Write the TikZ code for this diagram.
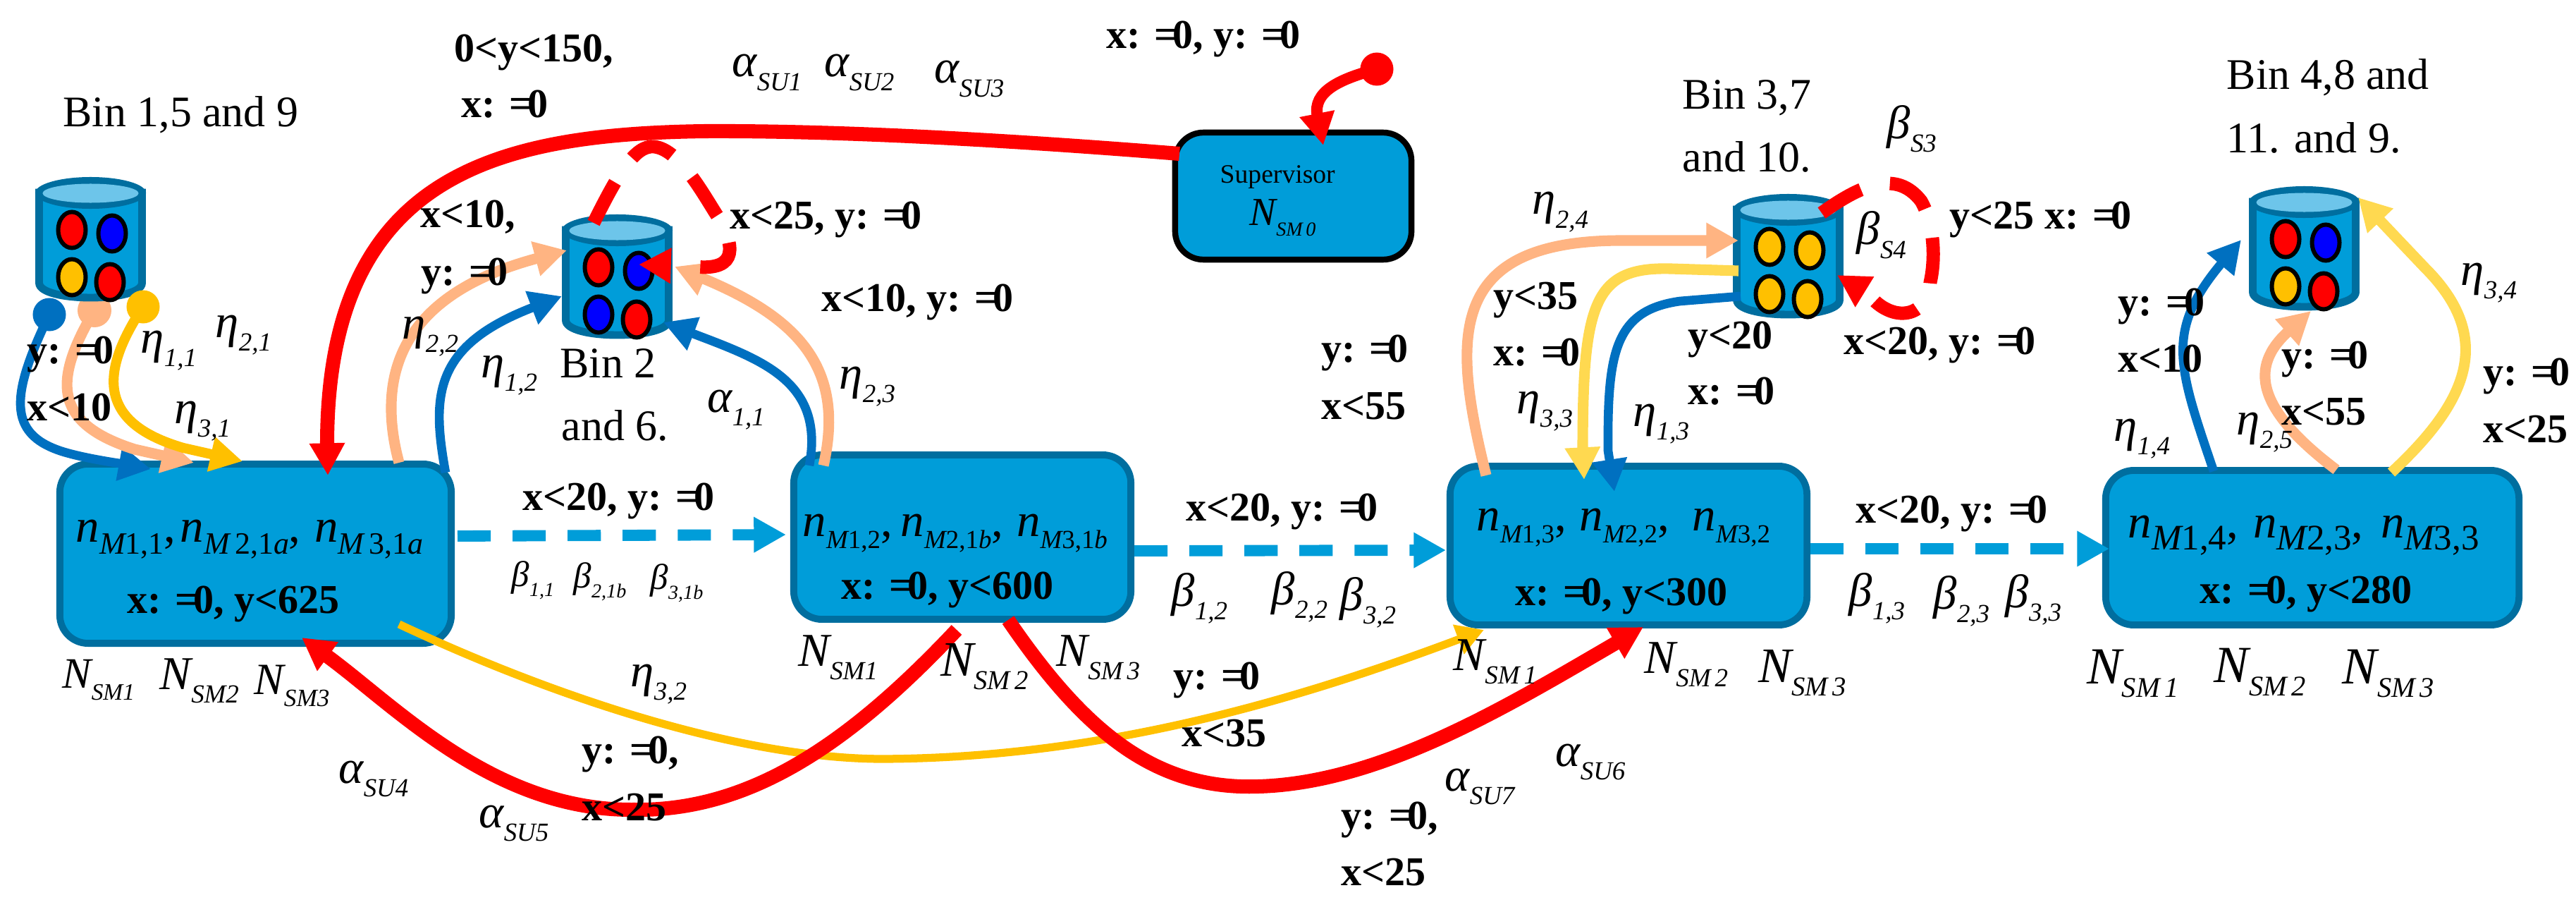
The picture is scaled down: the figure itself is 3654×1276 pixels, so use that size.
\documentclass[tikz,border=0pt]{standalone}
\usepackage{fontspec}
\setmainfont{Liberation Serif}
\usetikzlibrary{arrows.meta}
\definecolor{fillblue}{HTML}{009DD9}
\definecolor{edgeblue}{HTML}{006E9F}
\definecolor{lightblue}{HTML}{6DC5EA}
\definecolor{lineblue}{HTML}{0070C0}
\definecolor{peach}{HTML}{FFB482}
\definecolor{amber}{HTML}{FFC000}
\definecolor{softyellow}{HTML}{FFD950}
\definecolor{ballblue}{HTML}{0000FF}
\newcommand\gsym[5]{{\fontsize{#1}{#1}\selectfont\itshape #4}{\fontsize{#2}{#2}\selectfont\itshape\raisebox{-#3pt}{#5}}}
\newcommand\bigs[2]{\gsym{19}{10.5}{5.5}{#1}{#2}}
\newcommand\smalls[2]{\gsym{14.5}{8}{4}{#1}{#2}}
\newcommand\wideN[1]{\gsym{21}{11.5}{5.5}{N}{#1}}
\newcommand\midN[1]{\gsym{20}{11}{5.5}{N}{#1}}
\newcommand\nsub[2][12.5]{{\fontsize{19}{19}\selectfont\itshape n}{\fontsize{#1}{#1}\selectfont\raisebox{-5pt}{\itshape M\upshape #2}}}
\newcommand\ncomma{{\fontsize{19}{19}\selectfont,}}
\newcommand\eqz{=\kern-.12em 0}
\tikzset{
  x=0.01cm,y=-0.01cm,
  stage/.style={draw=edgeblue,fill=fillblue,line width=2.8pt,rounded corners=0.4cm,inner sep=0pt},
  super/.style={stage,draw=black,line width=2.4pt},
  binbase/.style={inner sep=0pt,minimum width=1.57cm,minimum height=1.78cm},
  cond/.style={inner sep=0pt,anchor=base west,font=\fontsize{16.5}{16.5}\selectfont\bfseries},
  binlab/.style={inner sep=0pt,anchor=base west,font=\fontsize{17.6}{17.6}\selectfont},
  sym/.style={inner sep=0pt,anchor=base west},
  head/.style={-{Triangle[length=13pt,width=13.5pt]}},
  redthick/.style={draw=red,line width=5.7pt,head},
  redloop/.style={draw=red,line width=5.4pt,head,dash pattern=on 18.5pt off 12pt},
  flowline/.style={draw=fillblue,line width=4.5pt,head,dash pattern=on 13.4pt off 8.8pt},
  bluearrow/.style={draw=lineblue,line width=3.6pt,head},
  peacharrow/.style={draw=peach,line width=4.3pt,head},
  amberarrow/.style={draw=amber,line width=4pt,head},
  thinamber/.style={draw=amber,line width=3.2pt,-{Triangle[length=11pt,width=12pt]}},
  softarrow/.style={draw=softyellow,line width=4.3pt,head},
  ballstyle/.style={draw=black,line width=1.7pt}
}
\newcommand\binshape[7]{%
  \node[binbase] (#1) at ({#2+78.5},{#3+89}) {};
  \begin{scope}[shift={(#2,#3)}]
    \path[fill=fillblue,draw=edgeblue,line width=3.1pt]
      (5.5,22) -- (5.5,150) .. controls (5.5,178) and (151.5,178) .. (151.5,150) -- (151.5,22) -- cycle;
    \fill[edgeblue] (78.5,22.5) ellipse [x radius=.785cm,y radius=.225cm];
    \fill[lightblue] (78.5,23) ellipse [x radius=.68cm,y radius=.135cm];
    \path[ballstyle,fill=#4] (52,75) ellipse [x radius=.195cm,y radius=.255cm];
    \path[ballstyle,fill=#5] (109,80) ellipse [x radius=.195cm,y radius=.255cm];
    \path[ballstyle,fill=#6] (52,142) ellipse [x radius=.195cm,y radius=.255cm];
    \path[ballstyle,fill=#7] (106,149) ellipse [x radius=.195cm,y radius=.255cm];
  \end{scope}}
\begin{document}
\begin{tikzpicture}
\useasboundingbox (0,0) rectangle (3654,1276);
% stage boxes
\node[stage,minimum width=5.55cm,minimum height=2.54cm] (box1) at (362.5,785) {};
\node[stage,minimum width=4.78cm,minimum height=2.33cm] (box2) at (1365,761.5) {};
\node[stage,minimum width=5.06cm,minimum height=2.25cm] (box3) at (2310,773.5) {};
\node[stage,minimum width=5.86cm,minimum height=2.19cm] (box4) at (3280,776.5) {};
\node[super,minimum width=3.35cm,minimum height=1.80cm] (sup) at (1834.5,278) {};
% initial dots of bin A, blue and peach lie behind the bin
\coordinate (da1) at (70,446);
\coordinate (da2) at (134,440);
\coordinate (da3) at (203,435);
\coordinate (ta1) at (214,665);
\coordinate (ta2) at (275,656);
\coordinate (ta3) at (344,654);
\fill[lineblue] (da1) circle [radius=.235cm];
\fill[peach] (da2) circle [radius=.24cm];
\draw[bluearrow] (da1) .. controls (15,560) and (10,615) .. (88,640) .. controls (120,650) and (170,657) .. (ta1);
\draw[peacharrow] (da2) .. controls (75,540) and (75,600) .. (191,637) -- (ta2);
% bins
\binshape{binA}{50}{251}{red}{ballblue}{amber}{red}
\binshape{binB}{797}{304}{red}{ballblue}{ballblue}{red}
\binshape{binC}{2458}{275}{amber}{amber}{amber}{amber}
\binshape{binD}{3190}{264}{red}{ballblue}{amber}{red}
\fill[amber] (da3) circle [radius=.235cm];
\draw[amberarrow] (da3) .. controls (140,530) and (140,600) .. (260,635) -- (ta3);
% flow arrows
\coordinate (f1a) at (649,760); \coordinate (f1b) at (1115,758);
\coordinate (f2a) at (1609,781); \coordinate (f2b) at (2051,780);
\coordinate (f3a) at (2568,778); \coordinate (f3b) at (2992,778);
\draw[flowline] (f1a) -- (f1b);
\draw[flowline] (f2a) -- (f2b);
\draw[flowline] (f3a) -- (f3b);
% supervisor
\coordinate (s0) at (1953,98); \coordinate (s1) at (1877,206);
\fill[red] (s0) circle [radius=.235cm];
\draw[red,line width=4.6pt,head] (s0) .. controls (1900,112) and (1862,130) .. (s1);
\coordinate (rs) at (1673,218); \coordinate (re) at (465,674);
\draw[redthick] (rs) .. controls (1450,200) and (1200,185) .. (1000,186) .. controls (700,190) and (465,250) .. (464,628) -- (re);
% bin B arrows and loop
\coordinate (p1s) at (566,656); \coordinate (p1e) at (804,355);
\draw[peacharrow] (p1s) .. controls (535,540) and (560,420) .. (p1e);
\coordinate (b1s) at (632,670); \coordinate (b1e) at (797,420);
\draw[bluearrow] (b1s) .. controls (612,560) and (615,490) .. (b1e);
\coordinate (b2s) at (1148,660); \coordinate (b2e) at (941,457);
\draw[bluearrow] (b2s) .. controls (1170,540) and (1080,510) .. (b2e);
\coordinate (p2s) at (1168,660); \coordinate (p2e) at (957,378);
\draw[peacharrow] (p2s) .. controls (1200,520) and (1130,450) .. (p2e);
\coordinate (l1s) at (842,316); \coordinate (l1e) at (906,375);
\draw[redloop] (l1s) .. controls (875,250) and (900,205) .. (928,208) .. controls (965,212) and (1000,280) .. (1020,310) .. controls (1040,345) and (1050,385) .. (985,378) -- (l1e);
% yellow long arrow
\coordinate (y1s) at (566,885); \coordinate (y1e) at (2105,893);
\draw[thinamber] (y1s) .. controls (790,990) and (1050,1075) .. (1250,1076) .. controls (1550,1075) and (1820,1000) .. (y1e);
% red arrows at bottom
\coordinate (r1s) at (1357,893); \coordinate (r1e) at (428,904);
\draw[redthick] (r1s) .. controls (1200,1060) and (1060,1150) .. (900,1148) .. controls (700,1150) and (560,1000) .. (r1e);
\coordinate (r2s) at (1430,879); \coordinate (r2e) at (2331,889);
\draw[redthick] (r2s) .. controls (1540,1040) and (1640,1120) .. (1785,1115) .. controls (1960,1110) and (2140,1000) .. (r2e);
% bin C
\coordinate (p3s) at (2108,674); \coordinate (p3e) at (2466,341);
\draw[peacharrow] (p3s) .. controls (2060,480) and (2050,341) .. (2300,341) -- (p3e);
\coordinate (y3s) at (2466,384); \coordinate (y3e) at (2247,680);
\draw[softarrow] (y3s) -- (2370,381) .. controls (2260,378) and (2245,430) .. (2245,640) -- (y3e);
\coordinate (b3s) at (2469,420); \coordinate (b3e) at (2290,697);
\draw[bluearrow] (b3s) -- (2383,427) .. controls (2290,440) and (2280,500) .. (2281,639) -- (b3e);
\coordinate (l2s) at (2584,302); \coordinate (l2e) at (2606,390);
\draw[redloop] (l2s) .. controls (2640,262) and (2690,240) .. (2725,285) .. controls (2745,320) and (2745,370) .. (2738,400) .. controls (2735,450) and (2685,460) .. (2650,417) -- (l2e);
% bin D
\coordinate (b4s) at (3140,668); \coordinate (b4e) at (3179,340);
\draw[bluearrow] (b4s) .. controls (3090,520) and (3070,470) .. (b4e);
\coordinate (p4s) at (3314,666); \coordinate (p4e) at (3278,441);
\draw[peacharrow] (p4s) .. controls (3200,580) and (3190,520) .. (p4e);
\coordinate (y4s) at (3392,670); \coordinate (y4e) at (3345,280);
\draw[softarrow] (y4s) .. controls (3500,570) and (3540,480) .. (3440,380) -- (y4e);
% box texts
\node[sym] (t1a) at (107,768) {\nsub{1,1}\ncomma\kern1.8pt\nsub{\,2,1\itshape a}\ncomma\kern5.5pt\nsub{\,3,1\itshape a}};
\node[cond] (t1b) at (180,869) {x: \eqz, y<625};
\node[sym] (t2a) at (1138,760) {\nsub[10.5]{1,2}\ncomma\kern3.4pt\nsub[10.5]{2,1\itshape b}\ncomma\kern5.4pt\nsub[10.5]{3,1\itshape b}};
\node[cond] (t2b) at (1193,849) {x: \eqz, y<600};
\node[sym] (t3a) at (2094,752) {\nsub[10.5]{1,3}\ncomma\kern5.4pt\nsub[10.5]{2,2}\ncomma\kern9.4pt\nsub[10.5]{3,2}};
\node[cond] (t3b) at (2149,858) {x: \eqz, y<300};
\node[sym] (t4a) at (3018,762) {\nsub[14.5]{1,4}\ncomma\kern6pt\nsub[14.5]{2,3}\ncomma\kern7pt\nsub[14.5]{3,3}};
\node[cond] (t4b) at (3120,855) {x: \eqz, y<280};
\node[inner sep=0pt,anchor=base west,font=\fontsize{10.7}{10.7}\selectfont] (t5a) at (1730,260) {Supervisor};
\node[sym] (t5b) at (1772,320) {\gsym{16}{8}{4}{N}{SM\,0}};
% bin labels
\node[binlab] (la1) at (89,180) {Bin 1,5 and 9};
\node[binlab] (la2) at (794,535) {Bin 2};
\node[binlab] (la3) at (796,624) {and 6.};
\node[binlab] (la4) at (2386,155) {Bin 3,7};
\node[binlab] (la5) at (2386,244) {and 10.};
\node[binlab] (la6) at (3158,127) {Bin 4,8 and};
\node[binlab] (la7) at (3158,216) {11. and 9.};
% condition labels
\node[cond] (c01) at (644,88) {0<y<150,};
\node[cond] (c02) at (654,167) {x: \eqz};
\node[cond] (c03) at (596,322) {x<10,};
\node[cond] (c04) at (597,404) {y: \eqz};
\node[cond] (c05) at (38,515) {y: \eqz};
\node[cond] (c06) at (38,596) {x<10};
\node[cond] (c07) at (741,723) {x<20, y: \eqz};
\node[cond] (c08) at (1682,738) {x<20, y: \eqz};
\node[cond] (c09) at (2632,741) {x<20, y: \eqz};
\node[cond] (c10) at (825,1082) {y: \eqz,};
\node[cond] (c11) at (825,1163) {x<25};
\node[cond] (c12) at (1664,977) {y: \eqz};
\node[cond] (c13) at (1676,1058) {x<35};
\node[cond] (c14) at (1902,1175) {y: \eqz,};
\node[cond] (c15) at (1902,1255) {x<25};
\node[cond] (c16) at (1569,69) {x: \eqz, y: \eqz};
\node[cond] (c17) at (1035,324) {x<25, y: \eqz};
\node[cond] (c18) at (1165,441) {x<10, y: \eqz};
\node[cond] (c19) at (1874,513) {y: \eqz};
\node[cond] (c20) at (1874,594) {x<55};
\node[cond] (c21) at (2118,438) {y<35};
\node[cond] (c22) at (2118,518) {x: \eqz};
\node[cond] (c23) at (2394,494) {y<20};
\node[cond] (c24) at (2394,573) {x: \eqz};
\node[cond] (c25) at (2615,502) {x<20, y: \eqz};
\node[cond] (c26) at (2765,324) {y<25 x: \eqz};
\node[cond] (c27) at (3004,447) {y: \eqz};
\node[cond] (c28) at (3004,527) {x<10};
\node[cond] (c29) at (3236,522) {y: \eqz};
\node[cond] (c30) at (3236,602) {x<55};
\node[cond] (c31) at (3522,546) {y: \eqz};
\node[cond] (c32) at (3522,627) {x<25};
% eta labels
\node[sym] (e01) at (199,500) {\bigs{η}{1,1}};
\node[sym] (e02) at (305,478) {\bigs{η}{2,1}};
\node[sym] (e03) at (247,600) {\bigs{η}{3,1}};
\node[sym] (e04) at (570,480) {\bigs{η}{2,2}};
\node[sym] (e05) at (682,535) {\bigs{η}{1,2}};
\node[sym] (e06) at (894,973) {\bigs{η}{3,2}};
\node[sym] (e07) at (1190,551) {\bigs{η}{2,3}};
\node[sym] (e08) at (2173,304) {\bigs{η}{2,4}};
\node[sym] (e09) at (2151,586) {\bigs{η}{3,3}};
\node[sym] (e10) at (2316,604) {\bigs{η}{1,3}};
\node[sym] (e11) at (3490,404) {\bigs{η}{3,4}};
\node[sym] (e12) at (2998,625) {\bigs{η}{1,4}};
\node[sym] (e13) at (3172,616) {\bigs{η}{2,5}};
% alpha labels
\node[sym] (a01) at (1003,584) {\bigs{α}{1,1}};
\node[sym] (a02) at (1038,109) {\bigs{α}{SU1}};
\node[sym] (a03) at (1169,109) {\bigs{α}{SU2}};
\node[sym] (a04) at (1325,118) {\bigs{α}{SU3}};
\node[sym] (a05) at (480,1110) {\bigs{α}{SU4}};
\node[sym] (a06) at (679,1173) {\bigs{α}{SU5}};
\node[sym] (a07) at (2206,1086) {\bigs{α}{SU6}};
\node[sym] (a08) at (2049,1121) {\bigs{α}{SU7}};
% beta labels
\node[sym] (g01) at (725,831) {\smalls{β}{1,1}};
\node[sym] (g02) at (813,833) {\smalls{β}{2,1b}};
\node[sym] (g03) at (922,835) {\smalls{β}{3,1b}};
\node[sym] (g04) at (1661,859) {\bigs{β}{1,2}};
\node[sym] (g05) at (1803,857) {\bigs{β}{2,2}};
\node[sym] (g06) at (1900,865) {\bigs{β}{3,2}};
\node[sym] (g07) at (2622,859) {\bigs{β}{1,3}};
\node[sym] (g08) at (2742,863) {\bigs{β}{2,3}};
\node[sym] (g09) at (2844,861) {\bigs{β}{3,3}};
\node[sym] (g10) at (2676,196) {\bigs{β}{S3}};
\node[sym] (g11) at (2633,347) {\bigs{β}{S4}};
% N labels
\node[sym] (n01) at (88,975) {\gsym{17.5}{9.5}{5}{N}{SM1}};
\node[sym] (n02) at (226,977) {\bigs{N}{SM2}};
\node[sym] (n03) at (360,984) {\gsym{18}{10}{5}{N}{SM3}};
\node[sym] (n04) at (1132,944) {\bigs{N}{SM1}};
\node[sym] (n05) at (1334,958) {\midN{SM\,2}};
\node[sym] (n06) at (1498,944) {\bigs{N}{SM\,3}};
\node[sym] (n07) at (2061,950) {\bigs{N}{SM\,1}};
\node[sym] (n08) at (2332,954) {\bigs{N}{SM\,2}};
\node[sym] (n09) at (2494,967) {\midN{SM\,3}};
\node[sym] (n10) at (2960,969) {\wideN{SM\,1}};
\node[sym] (n11) at (3140,967) {\wideN{SM\,2}};
\node[sym] (n12) at (3322,969) {\wideN{SM\,3}};
\end{tikzpicture}
\end{document}
